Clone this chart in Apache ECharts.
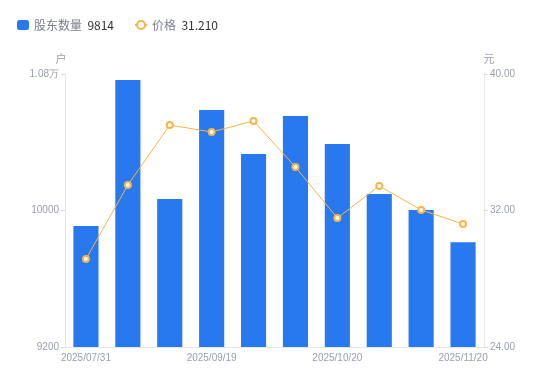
<!DOCTYPE html>
<html><head><meta charset="utf-8">
<script src="https://cdn.jsdelivr.net/npm/echarts@6/dist/echarts.min.js"></script>
<style>html,body{margin:0;padding:0;background:#fff}#c{width:550px;height:381px}</style>
</head><body><div id="c"></div>
<script>
const categories = ['2025/07/31','2025/08/20','2025/08/31','2025/09/19','2025/09/30','2025/10/10','2025/10/20','2025/10/31','2025/11/10','2025/11/20'];
const holders = [9909, 10765, 10067, 10589, 10331, 10554, 10390, 10097, 10003, 9814];
const prices = [29.16, 33.49, 37.01, 36.60, 37.25, 34.55, 31.56, 33.44, 32.03, 31.21];
const leftTicks = [9200, 10000, 10800];
const rightTicks = [24, 32, 40];

const chart = echarts.init(document.getElementById('c'), null, {renderer:'canvas'});
const lastVals = {'股东数量': holders[holders.length-1], '价格': prices[prices.length-1].toFixed(3)};
chart.setOption({
  animation:false,
  textStyle:{fontFamily:'Noto Sans CJK SC, Noto Sans, sans-serif'},
  legend:{
    left:12, top:14, itemWidth:12, itemHeight:10, itemGap:20,
    data:[{name:'股东数量', icon:'roundRect', itemStyle:{}}, {name:'价格'}],
    formatter: n => '{a|' + n + '}  {b|' + lastVals[n] + '}',
    textStyle:{rich:{a:{color:'#7a7f8c', fontSize:12}, b:{color:'#333', fontSize:12}}}
  },
  grid:{left:65, right:66, top:74, bottom:34, containLabel:false},
  xAxis:{
    type:'category', data:categories,
    axisLine:{lineStyle:{color:'#e6e6e6'}},
    axisTick:{show:false},
    axisLabel:{interval:2, color:'#9a9eab', fontSize:10, margin:6, fontFamily:'Liberation Sans, Arial, sans-serif'}
  },
  yAxis:[{
    type:'value', min:leftTicks[0], max:leftTicks[2], interval:800,
    name:'户', nameLocation:'end', nameGap:10, nameTextStyle:{color:'#9a9eab', fontSize:11, padding:[0,8,0,0]},
    axisLine:{show:true, lineStyle:{color:'#e6e6e6'}},
    axisTick:{show:true, length:4, lineStyle:{color:'#d8d8d8'}},
    splitLine:{show:false},
    axisLabel:{color:'#9a9eab', fontSize:10, margin:6, fontFamily:'Liberation Sans, Arial, sans-serif',
      formatter: v => v > 10000 ? (v/10000) + '万' : String(v)}
  },{
    type:'value', min:rightTicks[0], max:rightTicks[2], interval:8,
    name:'元', nameLocation:'end', nameGap:10, nameTextStyle:{color:'#9a9eab', fontSize:11, padding:[0,0,0,10]},
    axisLine:{show:true, lineStyle:{color:'#e6e6e6'}},
    axisTick:{show:true, length:4, lineStyle:{color:'#d8d8d8'}},
    splitLine:{show:false},
    axisLabel:{color:'#9a9eab', fontSize:10, margin:6, fontFamily:'Liberation Sans, Arial, sans-serif',
      formatter: v => v.toFixed(2)}
  }],
  series:[{
    name:'股东数量', type:'bar', data:holders, barWidth:'60%', yAxisIndex:0,
    itemStyle:{color:'#2878f0'}
  },{
    name:'价格', type:'line', data:prices, yAxisIndex:1,
    symbol:'emptyCircle', symbolSize:6,
    lineStyle:{color:'#f8b44a', width:1},
    itemStyle:{color:'#f8b44a', borderWidth:1.5}
  }]
});
</script></body></html>
